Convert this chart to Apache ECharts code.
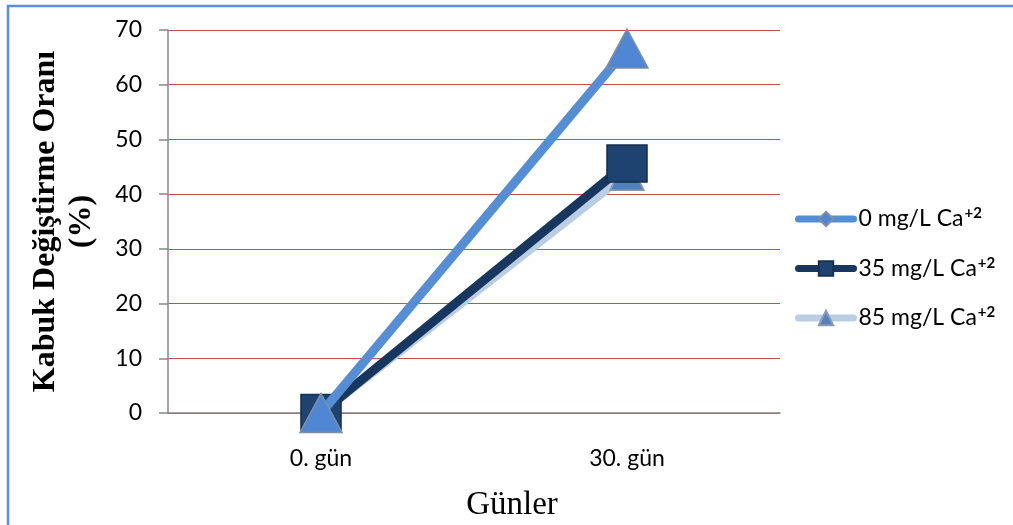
<!DOCTYPE html>
<html><head><meta charset="utf-8">
<script src="https://cdn.jsdelivr.net/npm/echarts@6/dist/echarts.min.js"></script>
<style>html,body{margin:0;padding:0;background:#fff}#c{width:1013px;height:525px}</style>
</head><body><div id="c"></div>
<script>
const categories = ['0. gün', '30. gün'];
const seriesNames = ['0 mg/L Ca⁺²', '35 mg/L Ca⁺²', '85 mg/L Ca⁺²'];
const s0 = [0, 66.6];
const s35 = [0, 45.6];
const s85 = [0, 43.8];
const yTicks = [0, 10, 20, 30, 40, 50, 60, 70];

const chart = echarts.init(document.getElementById('c'));
const labelFont = 'Lato, "Open Sans", sans-serif';
function legendRich(name) {
  const base = name.replace('⁺²', '');
  return '{a|' + base + '}{s|+2}';
}
chart.setOption({
  animation: false,
  backgroundColor: '#fff',
  graphic: [{
    type: 'rect', shape: {x: 8, y: 6, width: 1020, height: 540},
    style: {fill: 'none', stroke: '#5B8FDB', lineWidth: 2.5}, silent: true
  }],
  grid: {left: 168, right: 233, top: 30, bottom: 112, containLabel: false, outerBoundsMode: 'none'},
  legend: {
    orient: 'vertical', left: 795, top: 206, itemGap: 24.5, padding: 0,
    itemWidth: 55, itemHeight: 18, itemTextGap: 4,
    formatter: legendRich,
    textStyle: {
      fontFamily: labelFont, fontSize: 23, color: '#000',
      rich: {
        a: {fontFamily: labelFont, fontSize: 23, color: '#000', lineHeight: 26},
        s: {fontFamily: labelFont, fontSize: 15, fontWeight: 'bold', color: '#000', lineHeight: 26, verticalAlign: 'top', padding: [0, 0, 10, 1]}
      }
    },
    data: [
      {name: seriesNames[0], lineStyle: {width: 7, cap: 'round'}},
      {name: seriesNames[1], lineStyle: {width: 7, cap: 'round'}},
      {name: seriesNames[2], lineStyle: {width: 7, cap: 'round'}}
    ]
  },
  xAxis: {
    type: 'category', data: categories, boundaryGap: true,
    axisLine: {show: true, lineStyle: {color: '#868686', width: 1.5}},
    axisTick: {show: false},
    axisLabel: {margin: 34, fontFamily: labelFont, fontSize: 23, color: '#000'},
    name: 'Günler', nameLocation: 'middle', nameGap: 76,
    nameTextStyle: {fontFamily: '"Liberation Serif", serif', fontSize: 33, color: '#000', padding: [0, 0, 0, 76]}
  },
  yAxis: {
    type: 'value', min: yTicks[0], max: yTicks[yTicks.length - 1], interval: 10,
    axisLine: {show: true, lineStyle: {color: '#868686', width: 1.5}},
    axisTick: {show: true, length: 9, lineStyle: {color: '#868686', width: 1.5}},
    axisLabel: {margin: 26, fontFamily: labelFont, fontSize: 23, color: '#000'},
    splitLine: {lineStyle: {color: '#C0504D', width: 1.2}},
    name: 'Kabuk Değiştirme Oranı\n(%)', nameLocation: 'middle', nameGap: 68, nameRotate: 90,
    nameTextStyle: {fontFamily: '"Liberation Serif", serif', fontSize: 32, fontWeight: 'bold', color: '#000', lineHeight: 36}
  },
  series: [
    {
      name: seriesNames[2], type: 'line', z: 2,
      data: s85.map(v => ({value: v})),
      symbol: 'triangle', symbolSize: 34,
      lineStyle: {color: '#B9CDE5', width: 9},
      itemStyle: {color: '#4F81BD', borderColor: '#8A9BB0', borderWidth: 1.5}
    },
    {
      name: seriesNames[1], type: 'line', z: 3,
      data: s35.map(v => ({value: v})),
      symbol: 'rect', symbolSize: [40, 37],
      lineStyle: {color: '#17375E', width: 9},
      itemStyle: {color: '#1F4370', borderColor: '#16304F', borderWidth: 1.5}
    },
    {
      name: seriesNames[0], type: 'line', z: 4,
      data: s0.map(v => ({value: v, symbol: 'triangle', symbolSize: [42, 39]})),
      symbol: 'diamond', symbolSize: 16,
      lineStyle: {color: '#558ED5', width: 9},
      itemStyle: {color: '#4F87D4', borderColor: '#7F8FA3', borderWidth: 1.5}
    }
  ]
});
</script></body></html>
